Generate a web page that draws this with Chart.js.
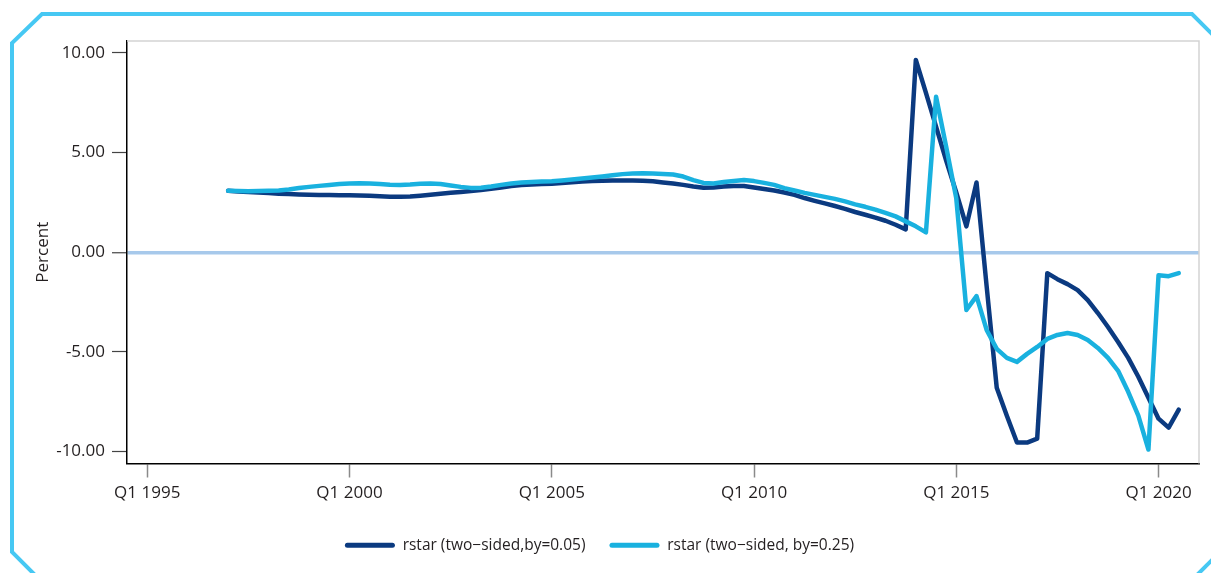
<!DOCTYPE html>
<html><head><meta charset="utf-8">
<script src="https://cdn.jsdelivr.net/npm/chart.js@4.4.1/dist/chart.umd.min.js"></script>
<style>html,body{margin:0;padding:0;background:#fff;}#wrap{width:1211px;height:573px;position:relative;}</style>
</head><body><div id="wrap"><canvas id="c" width="1211" height="573"></canvas></div>
<script>
// First observation: Q1 1997, quarterly
const startYear = 1997;
const startQuarter = 1;

const seriesNames = ['rstar (two\u2212sided,by=0.05)', 'rstar (two\u2212sided, by=0.25)'];

const rstarBy005 = [
  3.08, 3.05, 3.02, 3.00, 2.97, 2.94, 2.92, 2.90, 2.88, 2.87,
  2.87, 2.86, 2.86, 2.85, 2.83, 2.81, 2.79, 2.78, 2.80, 2.84,
  2.89, 2.94, 2.98, 3.02, 3.07, 3.12, 3.18, 3.25, 3.32, 3.37,
  3.40, 3.42, 3.44, 3.47, 3.51, 3.55, 3.58, 3.59, 3.60, 3.60,
  3.60, 3.59, 3.56, 3.50, 3.45, 3.38, 3.30, 3.24, 3.25, 3.30,
  3.33, 3.32, 3.25, 3.17, 3.10, 3.00, 2.88, 2.72, 2.58, 2.45,
  2.32, 2.18, 2.02, 1.88, 1.74, 1.58, 1.38, 1.15, 9.65, 8.00,
  6.30, 4.60, 3.00, 1.30, 3.50, -1.70, -6.80, -8.20, -9.55, -9.55,
  -9.35, -1.05, -1.35, -1.60, -1.90, -2.40, -3.05, -3.75, -4.50, -5.30,
  -6.25, -7.30, -8.35, -8.80, -7.90
];

const rstarBy025 = [
  3.08, 3.07, 3.06, 3.07, 3.08, 3.10, 3.15, 3.22, 3.28, 3.33,
  3.38, 3.42, 3.45, 3.46, 3.45, 3.42, 3.39, 3.38, 3.40, 3.44,
  3.45, 3.42, 3.35, 3.28, 3.23, 3.24, 3.30, 3.38, 3.45, 3.50,
  3.53, 3.55, 3.56, 3.60, 3.65, 3.70, 3.75, 3.80, 3.86, 3.92,
  3.95, 3.96, 3.95, 3.93, 3.90, 3.80, 3.62, 3.48, 3.45, 3.52,
  3.58, 3.62, 3.57, 3.48, 3.38, 3.22, 3.10, 2.98, 2.88, 2.78,
  2.68, 2.55, 2.40, 2.28, 2.14, 1.98, 1.80, 1.55, 1.30, 1.00,
  7.80, 5.30, 2.70, -2.90, -2.20, -3.90, -4.85, -5.30, -5.50, -5.10,
  -4.75, -4.35, -4.15, -4.05, -4.15, -4.40, -4.80, -5.30, -5.95, -7.00,
  -8.20, -9.90, -1.15, -1.20, -1.05
];

const yTicks = [-10, -5, 0, 5, 10];
const xTickYears = [1995, 2000, 2005, 2010, 2015, 2020];
const xRange = [1994.5, 2021.0];
const yRange = [-10.6, 10.6];

// quarter categories -> decimal year positions
const quarters = rstarBy005.map((_, i) => {
  const q = startQuarter - 1 + i;
  return { year: startYear + Math.floor(q / 4), q: (q % 4) + 1 };
});
const toPoints = vals => vals.map((v, i) => ({ x: quarters[i].year + (quarters[i].q - 1) / 4, y: v }));

const DARK = '#0b3a80';
const LIGHT = '#19b1df';

Chart.defaults.font.family = "'Open Sans', 'Noto Sans', sans-serif";
Chart.defaults.color = '#231f20';

const framePlugin = {
  id: 'frame',
  beforeDraw(chart) {
    const ctx = chart.ctx;
    ctx.save();
    ctx.fillStyle = '#ffffff';
    ctx.fillRect(0, 0, chart.width, chart.height);
    ctx.strokeStyle = '#46c8f3';
    ctx.lineWidth = 4;
    ctx.lineJoin = 'miter';
    ctx.beginPath();
    ctx.moveTo(36, 576);
    ctx.lineTo(12, 552);
    ctx.lineTo(12, 43);
    ctx.lineTo(42, 14);
    ctx.lineTo(1192, 14);
    ctx.lineTo(1215, 37);
    ctx.stroke();
    ctx.beginPath();
    ctx.moveTo(1196, 576);
    ctx.lineTo(1214, 558);
    ctx.stroke();
    ctx.restore();
  },
  beforeDatasetsDraw(chart) {
    const { ctx, chartArea: a } = chart;
    ctx.save();
    ctx.strokeStyle = '#d3d3d3';
    ctx.lineWidth = 1.5;
    ctx.beginPath();
    ctx.moveTo(a.left, a.top);
    ctx.lineTo(a.right, a.top);
    ctx.lineTo(a.right, a.bottom);
    ctx.stroke();
    ctx.restore();
  }
};

new Chart(document.getElementById('c'), {
  type: 'line',
  data: {
    datasets: [
      { label: seriesNames[0], data: toPoints(rstarBy005), borderColor: DARK, backgroundColor: DARK,
        borderWidth: 4.5, pointRadius: 0, tension: 0, order: 1,
        borderJoinStyle: 'round', borderCapStyle: 'round' },
      { label: seriesNames[1], data: toPoints(rstarBy025), borderColor: LIGHT, backgroundColor: LIGHT,
        borderWidth: 4.5, pointRadius: 0, tension: 0, order: 0,
        borderJoinStyle: 'round', borderCapStyle: 'round' }
    ]
  },
  options: {
    responsive: false,
    animation: false,
    devicePixelRatio: 1,
    layout: { padding: { top: 41, right: 12, bottom: 10, left: 0 } },
    plugins: {
      tooltip: { enabled: false },
      legend: {
        position: 'bottom',
        labels: {
          boxWidth: 50, boxHeight: 5, padding: 24,
          useBorderRadius: true, borderRadius: 2.5,
          font: { size: 15.5 }, color: '#231f20',
          sort: (a, b) => a.datasetIndex - b.datasetIndex,
          generateLabels(chart) {
            const items = Chart.defaults.plugins.legend.labels.generateLabels(chart);
            return items.map(it => Object.assign({}, it, { fillStyle: it.strokeStyle, lineWidth: 0 }));
          }
        }
      }
    },
    scales: {
      x: {
        type: 'linear',
        min: xRange[0], max: xRange[1],
        afterFit: s => { s.height = 50; },
        afterBuildTicks: s => { s.ticks = xTickYears.map(v => ({ value: v })); },
        ticks: { font: { size: 17 }, color: '#231f20', padding: 5, maxRotation: 0,
          callback: v => 'Q1 ' + v },
        grid: { drawOnChartArea: false, drawTicks: true, tickLength: 14, tickColor: '#8a8a8a', tickWidth: 1.5 },
        border: { display: true, color: '#000', width: 1.5 }
      },
      y: {
        min: yRange[0], max: yRange[1],
        afterFit: s => { s.width = 127; },
        afterBuildTicks: s => { s.ticks = yTicks.map(v => ({ value: v })); },
        ticks: { font: { size: 17 }, color: '#231f20', padding: 7,
          callback: v => v.toFixed(2) },
        grid: {
          drawOnChartArea: true, drawTicks: true, tickLength: 15,
          color: c => (c.tick && c.tick.value === 0) ? '#a7c9eb' : 'rgba(0,0,0,0)',
          lineWidth: c => (c.tick && c.tick.value === 0) ? 3.5 : 1,
          tickColor: '#444', tickWidth: 1.2
        },
        border: { display: true, color: '#000', width: 1.5 },
        title: { display: true, text: 'Percent', font: { size: 17 }, color: '#231f20', padding: { top: 33, bottom: 0 } }
      }
    }
  },
  plugins: [framePlugin]
});
</script>
</body></html>
